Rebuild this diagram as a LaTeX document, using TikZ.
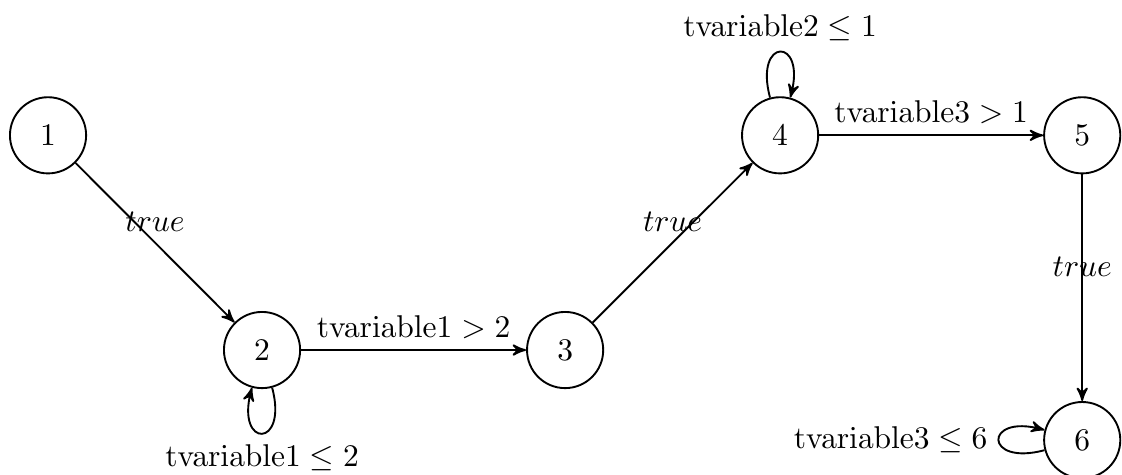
\documentclass[tikz,border=0pt]{standalone}
\usepackage{amsmath,amssymb}
\usepackage{tikz}
\usetikzlibrary{arrows}

\begin{document}
\begin{tikzpicture}[>=stealth', semithick, every node/.style={font=\normalsize}]
\useasboundingbox (0,0) rectangle (12.52,5.29);
\node[draw,circle,minimum size=0.85cm] (s1) at (0.536,3.78) {$1$};
\node[draw,circle,minimum size=0.85cm] (s2) at (2.924,1.384) {$2$};
\node[draw,circle,minimum size=0.85cm] (s3) at (6.306,1.384) {$3$};
\node[draw,circle,minimum size=0.85cm] (s4) at (8.705,3.78) {$4$};
\node[draw,circle,minimum size=0.85cm] (s5) at (12.076,3.78) {$5$};
\node[draw,circle,minimum size=0.85cm] (s6) at (12.076,0.379) {$6$};
\draw[->] (s1)--(s2) node[midway,above] {$true$}; \draw[->] (s2)--(s3) node[midway,above] {$\mathrm{tvariable1} > 2$};
\draw[->] (s3)--(s4) node[midway,above] {$true$}; \draw[->] (s4)--(s5) node[midway,above] {$\mathrm{tvariable3} > 1$};
\draw[->] (s5)--(s6) node[midway,above] {$true$};
\draw[->] (s2) to[loop below] node[below] {$\mathrm{tvariable1} \leq 2$} (s2);
\draw[->] (s4) to[loop above] node[above] {$\mathrm{tvariable2} \leq 1$} (s4);
\draw[->] (s6) to[loop left] node[left] {$\mathrm{tvariable3} \leq 6$} (s6);
\end{tikzpicture}
\end{document}
